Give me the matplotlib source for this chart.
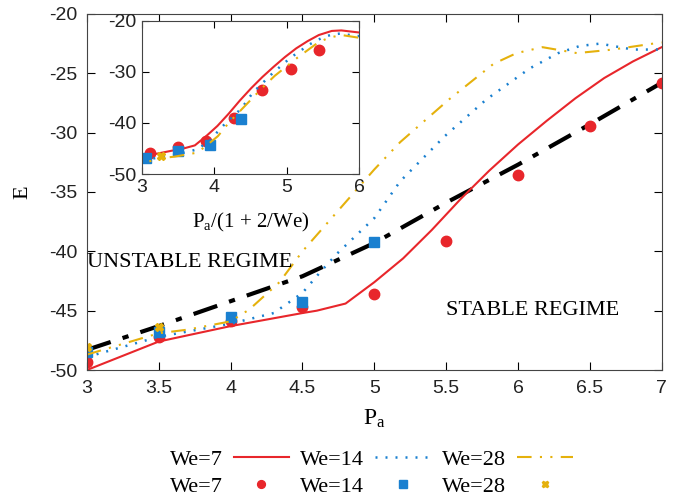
import matplotlib
matplotlib.use("Agg")
import matplotlib.pyplot as plt
import numpy as np

plt.rcParams['font.family'] = ['Liberation Serif', 'DejaVu Serif']
plt.rcParams['mathtext.fontset'] = 'custom'
plt.rcParams['mathtext.rm'] = 'Liberation Serif'
plt.rcParams['mathtext.it'] = 'Liberation Serif'
plt.rcParams['axes.unicode_minus'] = False

RED = '#e8262b'
BLUE = '#1a80d0'
YELLOW = '#e5b10c'

# simulation curves (E vs Pa)
pa_we7 = [3.0, 3.5, 4.0, 4.5, 4.6, 4.8, 5.0, 5.2, 5.4, 5.6, 5.8, 6.0, 6.2, 6.4, 6.6, 6.8, 7.0, 7.23, 7.4, 7.71]
e_we7 = [-50.0, -47.6, -46.3, -45.2, -45.0, -44.4, -42.6, -40.6, -38.2, -35.6, -33.2, -31.0, -29.0, -27.1, -25.4, -24.0, -22.8, -22.0, -21.9, -22.3]

pa_we14 = [3.0, 3.5, 4.0, 4.3, 4.5, 4.62, 4.74, 5.0, 5.18, 5.49, 5.78, 6.08, 6.28, 6.43, 6.57, 6.8, 7.0]
e_we14 = [-48.9, -47.2, -46.1, -45.2, -43.5, -41.8, -40.2, -37.2, -34.1, -30.3, -27.2, -24.6, -23.3, -22.7, -22.5, -23.0, -23.0]

pa_we28 = [3.0, 3.5, 3.7, 4.0, 4.13, 4.34, 4.5, 5.0, 5.18, 5.52, 5.83, 5.99, 6.17, 6.41, 6.66, 6.94, 7.0]
e_we28 = [-48.7, -46.9, -46.6, -45.9, -44.9, -42.6, -40.0, -33.1, -30.8, -27.2, -24.2, -23.3, -22.8, -23.3, -23.0, -22.5, -22.4]

# stability boundary
pa_bound = [3.0, 3.5, 4.0, 4.5, 5.0, 5.5, 6.0, 6.5, 7.0]
e_bound = [-48.3, -46.3, -44.2, -42.1, -39.3, -35.9, -32.7, -29.3, -25.8]

# model points
pa_pts7 = [3.0, 3.5, 4.0, 4.5, 5.0, 5.5, 6.0, 6.5, 7.0]
e_pts7 = [-49.3, -47.2, -45.9, -44.7, -43.6, -39.1, -33.6, -29.4, -25.8]
pa_pts14 = [3.0, 3.5, 4.0, 4.5, 5.0]
e_pts14 = [-48.5, -46.8, -45.5, -44.3, -39.2]
pa_pts28 = [3.0, 3.5]
e_pts28 = [-48.1, -46.4]

we_vals = [7, 14, 28]

fig = plt.figure(figsize=(6.9, 4.98), dpi=100)
ax = fig.add_axes([0.126, 0.257, 0.833, 0.715])
ins = fig.add_axes([0.2054, 0.6506, 0.315, 0.3078])

line_styles = [
    dict(color=RED, lw=1.5, ls='-'),
    dict(color=BLUE, lw=1.8, ls=(0, (0.8, 3.2))),
    dict(color=YELLOW, lw=1.5, ls=(0, (7, 4, 1, 4, 1, 4))),
]
pt_styles = [
    dict(color=RED, marker='o', ms=7.5, ls='none'),
    dict(color=BLUE, marker='s', ms=7, ls='none'),
    dict(color=YELLOW, marker='X', ms=6, ls='none'),
]
curves = [(pa_we7, e_we7), (pa_we14, e_we14), (pa_we28, e_we28)]
points = [(pa_pts7, e_pts7), (pa_pts14, e_pts14), (pa_pts28, e_pts28)]

handles = []
for i, we in enumerate(we_vals):
    scale = 1.0 / (1 + 2.0 / we)
    (px, py) = curves[i]
    (qx, qy) = points[i]
    hl, = ax.plot(px, py, label='We=%d' % we, **line_styles[i])
    hp, = ax.plot(qx, qy, label='We=%d' % we, **pt_styles[i])
    ins.plot(np.array(px) * scale, py, **line_styles[i])
    ins.plot(np.array(qx) * scale, qy, **pt_styles[i])
    handles += [hl, hp]

ax.plot(pa_bound, e_bound, color='black', lw=3, ls=(0, (6, 3, 1.5, 3)), zorder=1)

tick_font = 'Liberation Sans'

ax.set_xlim(3, 7)
ax.set_ylim(-50, -20)
ax.set_xticks(np.arange(3, 7.01, 0.5))
ax.set_xticklabels(['3', '3.5', '4', '4.5', '5', '5.5', '6', '6.5', '7'])
ax.set_yticks(np.arange(-50, -19, 5))
ax.tick_params(direction='in', top=True, right=True, labelsize=14, length=6, pad=7,
               labelcolor='#222222')
ax.set_xlabel('P$_\\mathregular{a}$', fontsize=17, labelpad=8)
ax.set_ylabel('E', fontsize=16, labelpad=12)

ins.set_xlim(3, 6)
ins.set_ylim(-50, -20)
ins.set_xticks([3, 4, 5, 6])
ins.set_yticks([-50, -40, -30, -20])
ins.tick_params(direction='in', top=True, right=True, labelsize=14, length=5,
                labelcolor='#222222')
ins.set_xlabel('P$_\\mathregular{a}$/(1 + 2/We)', fontsize=15, labelpad=11)

for a in (ax, ins):
    for lab in a.get_xticklabels() + a.get_yticklabels():
        lab.set_family(tick_font)
    for s in a.spines.values():
        s.set_color('#444444')

ax.text(3.0, -40.9, 'UNSTABLE REGIME', fontsize=16, va='center', ha='left')
ax.text(5.5, -45.0, 'STABLE REGIME', fontsize=16, va='center', ha='left')

fig.legend(handles=handles, loc='center', bbox_to_anchor=(0.538, 0.05), ncol=3,
           frameon=False, markerfirst=False, fontsize=16, handlelength=2.5,
           columnspacing=0.5, handletextpad=0.5, labelspacing=0.3, markerscale=0.75)

fig.savefig('out.png', dpi=100)
